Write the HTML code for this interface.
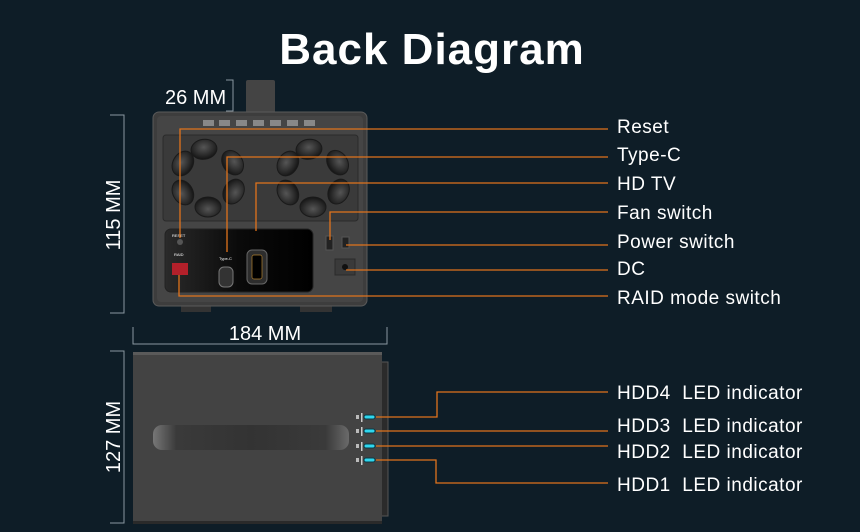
<!DOCTYPE html>
<html><head><meta charset="utf-8"><style>
html,body{margin:0;padding:0;background:#0e1d27;}
svg{display:block}
text{font-family:"Liberation Sans",sans-serif;fill:#fff}
</style></head><body>
<svg width="860" height="532" viewBox="0 0 860 532" xmlns="http://www.w3.org/2000/svg">
<defs>
<linearGradient id="blk" x1="0" x2="1"><stop offset="0" stop-color="#2a2a2a"/><stop offset="0.5" stop-color="#0a0a0a"/><stop offset="1" stop-color="#000"/></linearGradient>
<linearGradient id="hdl" x1="0" x2="1"><stop offset="0" stop-color="#777"/><stop offset="0.12" stop-color="#3a3a3a"/><stop offset="0.5" stop-color="#333"/><stop offset="0.88" stop-color="#3a3a3a"/><stop offset="1" stop-color="#6a6a6a"/></linearGradient>
<radialGradient id="blade" cx="0.5" cy="0.4" r="0.6"><stop offset="0" stop-color="#555"/><stop offset="1" stop-color="#141414"/></radialGradient>
</defs>
<rect width="860" height="532" fill="#0e1d27"/>
<text x="432" y="64" font-size="44" font-weight="bold" text-anchor="middle" letter-spacing="1">Back Diagram</text>

<!-- top device -->
<rect x="246" y="80" width="29" height="34" fill="#444" rx="2"/>
<text x="165" y="104" font-size="20">26 MM</text>
<path d="M226 80 H233 V111 H226" stroke="#8a98a0" fill="none" stroke-width="1"/>
<path d="M110 115 H124 V313 H110" stroke="#8a98a0" fill="none" stroke-width="1"/>
<text transform="translate(120 215) rotate(-90)" font-size="20" text-anchor="middle">115 MM</text>

<rect x="181" y="303" width="30" height="9" fill="#333"/>
<rect x="300" y="303" width="32" height="9" fill="#333"/>
<rect x="153" y="112" width="214" height="194" rx="6" fill="#3d3d3d" stroke="#5a5a5a"/>
<rect x="157" y="116" width="206" height="186" rx="4" fill="#454545"/>
<g fill="#888">
<rect x="203" y="120" width="11" height="6"/><rect x="219" y="120" width="11" height="6"/><rect x="236" y="120" width="11" height="6"/><rect x="253" y="120" width="11" height="6"/><rect x="270" y="120" width="11" height="6"/><rect x="287" y="120" width="11" height="6"/><rect x="304" y="120" width="11" height="6"/>
</g>
<rect x="163" y="135" width="195" height="86" rx="3" fill="#3a3a3a" stroke="#2a2a2a"/>
<g fill="url(#blade)" stroke="#1a1a1a">
<g transform="translate(208 178)">
<ellipse cx="0" cy="-29" rx="13" ry="10" transform="rotate(-8)"/>
<ellipse cx="0" cy="-29" rx="13" ry="10" transform="rotate(58)"/>
<ellipse cx="0" cy="-29" rx="13" ry="10" transform="rotate(118)"/>
<ellipse cx="0" cy="-29" rx="13" ry="10" transform="rotate(180)"/>
<ellipse cx="0" cy="-29" rx="13" ry="10" transform="rotate(240)"/>
<ellipse cx="0" cy="-29" rx="13" ry="10" transform="rotate(300)"/>
</g>
<g transform="translate(313 178)">
<ellipse cx="0" cy="-29" rx="13" ry="10" transform="rotate(-8)"/>
<ellipse cx="0" cy="-29" rx="13" ry="10" transform="rotate(58)"/>
<ellipse cx="0" cy="-29" rx="13" ry="10" transform="rotate(118)"/>
<ellipse cx="0" cy="-29" rx="13" ry="10" transform="rotate(180)"/>
<ellipse cx="0" cy="-29" rx="13" ry="10" transform="rotate(240)"/>
<ellipse cx="0" cy="-29" rx="13" ry="10" transform="rotate(300)"/>
</g>
</g>
<rect x="165" y="229" width="148" height="63" rx="6" fill="url(#blk)" stroke="#222"/>
<circle cx="180" cy="242" r="3" fill="#555"/>
<text x="172" y="237" font-size="4" fill="#ccc">RESET</text>
<text x="174" y="256" font-size="4">RAID</text>
<rect x="172" y="263" width="16" height="12" fill="#b3202a"/>
<rect x="219" y="267" width="14" height="20" rx="5" fill="#333" stroke="#777"/>
<text x="219" y="260" font-size="4">Type-C</text>
<rect x="247" y="250" width="20" height="34" rx="5" fill="#2d2d2d" stroke="#666"/>
<rect x="252" y="255" width="10" height="24" rx="2" fill="#000" stroke="#b08030" stroke-width="0.7"/>
<rect x="326" y="236" width="7" height="14" fill="#222" stroke="#555"/>
<rect x="342" y="237" width="7" height="11" fill="#222" stroke="#555"/>
<rect x="335" y="259" width="20" height="16" fill="#3a3a3a" stroke="#2a2a2a"/>
<circle cx="345" cy="267" r="3" fill="#111"/>

<g stroke="#e0731c" stroke-width="1.3" fill="none">
<path d="M180 238 V129 H608"/>
<path d="M227 252 V157 H608"/>
<path d="M256 231 V183 H608"/>
<path d="M330 240 V212 H608"/>
<path d="M346 245 H608"/>
<path d="M346 270 H608"/>
<path d="M179 275 V296 H608"/>
</g>
<g font-size="19" letter-spacing="0.5">
<text x="617" y="133">Reset</text>
<text x="617" y="161">Type-C</text>
<text x="617" y="190">HD TV</text>
<text x="617" y="219">Fan switch</text>
<text x="617" y="248">Power switch</text>
<text x="617" y="275">DC</text>
<text x="617" y="304">RAID mode switch</text>
</g>

<!-- bottom device -->
<text x="265" y="340" font-size="20" text-anchor="middle">184 MM</text>
<path d="M133 327 V344 H387 V327" stroke="#8a98a0" fill="none" stroke-width="1"/>
<path d="M110 351 H124 V523 H110" stroke="#8a98a0" fill="none" stroke-width="1"/>
<text transform="translate(120 437) rotate(-90)" font-size="20" text-anchor="middle">127 MM</text>
<rect x="380" y="362" width="8" height="154" fill="#2b2b2b" stroke="#555"/>
<rect x="133" y="352" width="249" height="172" fill="#434343"/>
<rect x="133" y="352" width="249" height="3" fill="#5a5a5a"/>
<rect x="133" y="521" width="249" height="3" fill="#2a2a2a"/>
<rect x="153" y="425" width="196" height="25" rx="9" fill="url(#hdl)"/>
<g>
<rect x="356" y="415" width="3" height="4" fill="#bbb"/><rect x="356" y="429" width="3" height="4" fill="#bbb"/><rect x="356" y="444" width="3" height="4" fill="#bbb"/><rect x="356" y="458" width="3" height="4" fill="#bbb"/>
<rect x="361" y="413" width="1.5" height="9" fill="#ccc"/><rect x="361" y="427" width="1.5" height="9" fill="#ccc"/><rect x="361" y="442" width="1.5" height="9" fill="#ccc"/><rect x="361" y="456" width="1.5" height="9" fill="#ccc"/>
<rect x="364" y="415" width="11" height="4" rx="2" fill="#2fd6ee" stroke="#0b3a44"/>
<rect x="364" y="429" width="11" height="4" rx="2" fill="#2fd6ee" stroke="#0b3a44"/>
<rect x="364" y="444" width="11" height="4" rx="2" fill="#2fd6ee" stroke="#0b3a44"/>
<rect x="364" y="458" width="11" height="4" rx="2" fill="#2fd6ee" stroke="#0b3a44"/>
</g>
<g stroke="#e0731c" stroke-width="1.3" fill="none">
<path d="M376 417 H437 V392 H608"/>
<path d="M376 431 H608"/>
<path d="M376 446 H608"/>
<path d="M376 460 H436 V483 H608"/>
</g>
<g font-size="19" letter-spacing="0.5">
<text x="617" y="399" xml:space="preserve">HDD4  LED indicator</text>
<text x="617" y="432" xml:space="preserve">HDD3  LED indicator</text>
<text x="617" y="458" xml:space="preserve">HDD2  LED indicator</text>
<text x="617" y="491" xml:space="preserve">HDD1  LED indicator</text>
</g>
</svg>
</body></html>
